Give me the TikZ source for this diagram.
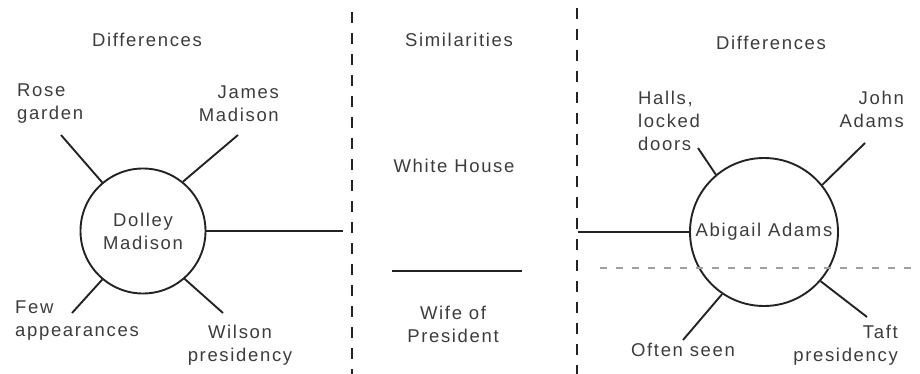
\documentclass[tikz,border=0pt]{standalone}
\usepackage{fontspec}
\newfontfamily\lblfont{Liberation Sans}[LetterSpace=9]
\usepackage{tikz}
\usetikzlibrary{positioning,calc}
\definecolor{ink}{RGB}{35,35,35}
\definecolor{txt}{RGB}{60,60,60}
\definecolor{faint}{RGB}{160,160,160}

\begin{document}
\begin{tikzpicture}[
  x=1pt, y=-1pt,
  every node/.style={font=\lblfont\fontsize{18.5}{23}\selectfont, text=txt, inner sep=0pt},
  person/.style={circle, draw=ink, line width=1.9pt},
  spoke/.style={ink, line width=1.9pt},
  divider/.style={ink, line width=2pt, dash pattern=on 11pt off 10pt},
  rule/.style={faint, line width=1.3pt, dash pattern=on 7pt off 9pt},
]
\useasboundingbox (0,0) rectangle (920,374);

% ---- column heads ----
\node (diffL) at (147,40) {Differences};
\node (simil) at (459,40) {Similarities};
\node (diffR) at (771,43) {Differences};

% ---- dividers ----
\coordinate (divLtop) at (352,12);
\coordinate (divLbot) at (352,374);
\coordinate (divRtop) at (577,8);
\coordinate (divRbot) at (577,374);
\draw[divider] (divLtop) -- (divLbot);
\draw[divider] (divRtop) -- (divRbot);

% ---- the two women ----
\node[person, minimum size=125pt, align=center] (dolley) at (143,231) {Dolley\\Madison};
\node[person, minimum size=148pt] (abigail) at (764,232) {Abigail Adams};

% ---- left spokes ----
\coordinate (roseE) at (61,135);
\coordinate (jamesE) at (238,135);
\coordinate (fewE) at (72,313);
\coordinate (wilsonE) at (223,313);
\draw[spoke] (dolley.130) -- (roseE);
\draw[spoke] (dolley.51) -- (jamesE);
\draw[spoke] (dolley.-130) -- (fewE);
\draw[spoke] (dolley.-49) -- (wilsonE);

\node[anchor=west, align=left] (rose) at (17,104) {Rose\\garden};
\node[anchor=east, align=right] (james) at (279,104) {James\\Madison};
\node[anchor=west, align=left] (few) at (15,321) {Few\\appearances};
\node[align=center] (wilson) at (240,345) {Wilson\\presidency};

% ---- right spokes ----
\coordinate (hallsE) at (698,148);
\coordinate (johnE) at (865,143);
\coordinate (oftenE) at (683,340);
\coordinate (taftE) at (867,317);
\draw[spoke] (abigail.130) -- (hallsE);
\draw[spoke] (abigail.39) -- (johnE);
\draw[spoke] (abigail.-124) -- (oftenE);
\draw[spoke] (abigail.-41) -- (taftE);

\node[anchor=west, align=left] (halls) at (638,121) {Halls,\\locked\\doors};
\node[anchor=east, align=right] (john) at (904,109) {John\\Adams};
\node (often) at (683,350) {Often seen};
\node[anchor=east, align=right] (taft) at (898,345) {Taft\\presidency};

% ---- similarities ----
\node (white) at (454,166) {White House};
\node[align=center] (wife) at (453,324) {Wife of\\President};
\coordinate (sepL) at (392,271);
\coordinate (sepR) at (522,271);
\draw[ink, line width=1.5pt] (sepL) -- (sepR);

% ---- links to the middle ----
\coordinate (linkL) at (343,231);
\coordinate (linkR) at (578,232);
\draw[spoke, line width=1.6pt] (dolley.east) -- (linkL);
\draw[spoke, line width=1.6pt] (linkR) -- (abigail.west);

% ---- faint rule on the right ----
\coordinate (ruleL) at (600,268);
\coordinate (ruleR) at (920,268);
\draw[rule] (ruleL) -- (ruleR);

\end{tikzpicture}
\end{document}
